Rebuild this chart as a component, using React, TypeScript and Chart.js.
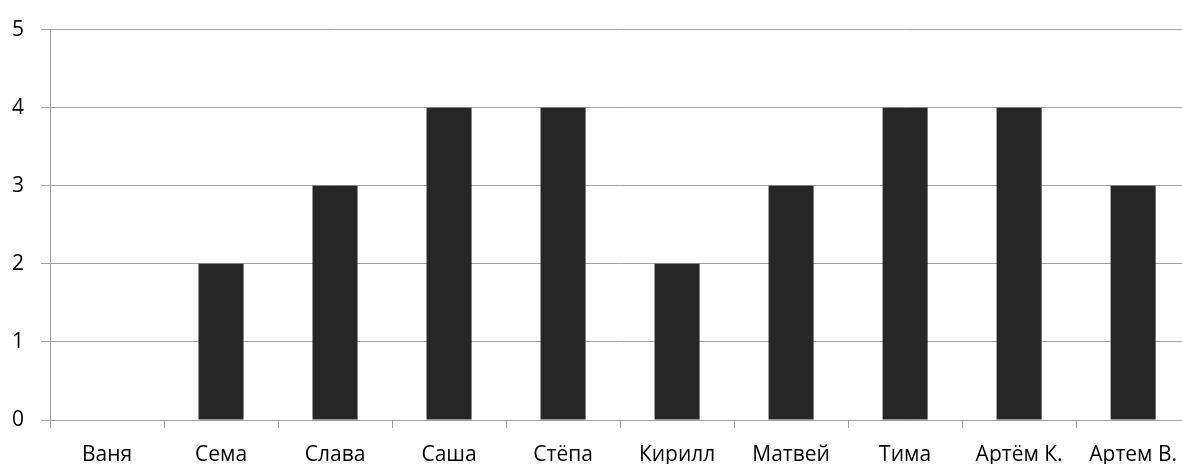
import React, { useEffect, useRef } from "react";
import { Chart, registerables } from "chart.js";

Chart.register(...registerables);

const categories = ["Ваня", "Сема", "Слава", "Саша", "Стёпа", "Кирилл", "Матвей", "Тима", "Артём К.", "Артем В."];
const values = [0, 2, 3, 4, 4, 2, 3, 4, 4, 3];
const yTicks = [0, 1, 2, 3, 4, 5];

const GRID = "#a0a0a0";
const FONT = { family: "'Open Sans', sans-serif", size: 21 };

export default function App() {
  const ref = useRef<HTMLCanvasElement | null>(null);
  useEffect(() => {
    if (!ref.current) return;
    const chart = new Chart(ref.current, {
      type: "bar",
      data: {
        labels: categories,
        datasets: [
          {
            data: values,
            backgroundColor: "#262626",
            borderWidth: 0,
            categoryPercentage: 1,
            barPercentage: 0.395,
          },
        ],
      },
      options: {
        responsive: false,
        animation: false,
        devicePixelRatio: 1,
        layout: { padding: { top: 25, left: 0, right: 0, bottom: 0 } },
        plugins: { legend: { display: false }, tooltip: { enabled: false } },
        scales: {
          x: {
            offset: true,
            grid: { offset: true, drawOnChartArea: false, drawTicks: true, tickLength: 8, color: GRID, lineWidth: 1 },
            border: { color: GRID, width: 1 },
            ticks: { color: "#000", font: FONT, padding: 14, maxRotation: 0, autoSkip: false },
            afterFit: (s: any) => { s.height = 44; },
          },
          y: {
            min: 0,
            max: 5,
            afterBuildTicks: (s: any) => { s.ticks = yTicks.map((v) => ({ value: v })); },
            grid: { color: GRID, lineWidth: 1, tickLength: 9 },
            border: { color: GRID, width: 1 },
            ticks: { color: "#000", font: FONT, padding: 17 },
            afterFit: (s: any) => { s.width = 50; },
          },
        },
      },
    });
    return () => chart.destroy();
  }, []);
  return (
    <div style={{ position: "fixed", left: 0, top: 0, width: 1182, height: 464, overflow: "hidden", background: "#fff" }}>
      <canvas ref={ref} width={1191} height={464} style={{ display: "block" }} />
    </div>
  );
}
